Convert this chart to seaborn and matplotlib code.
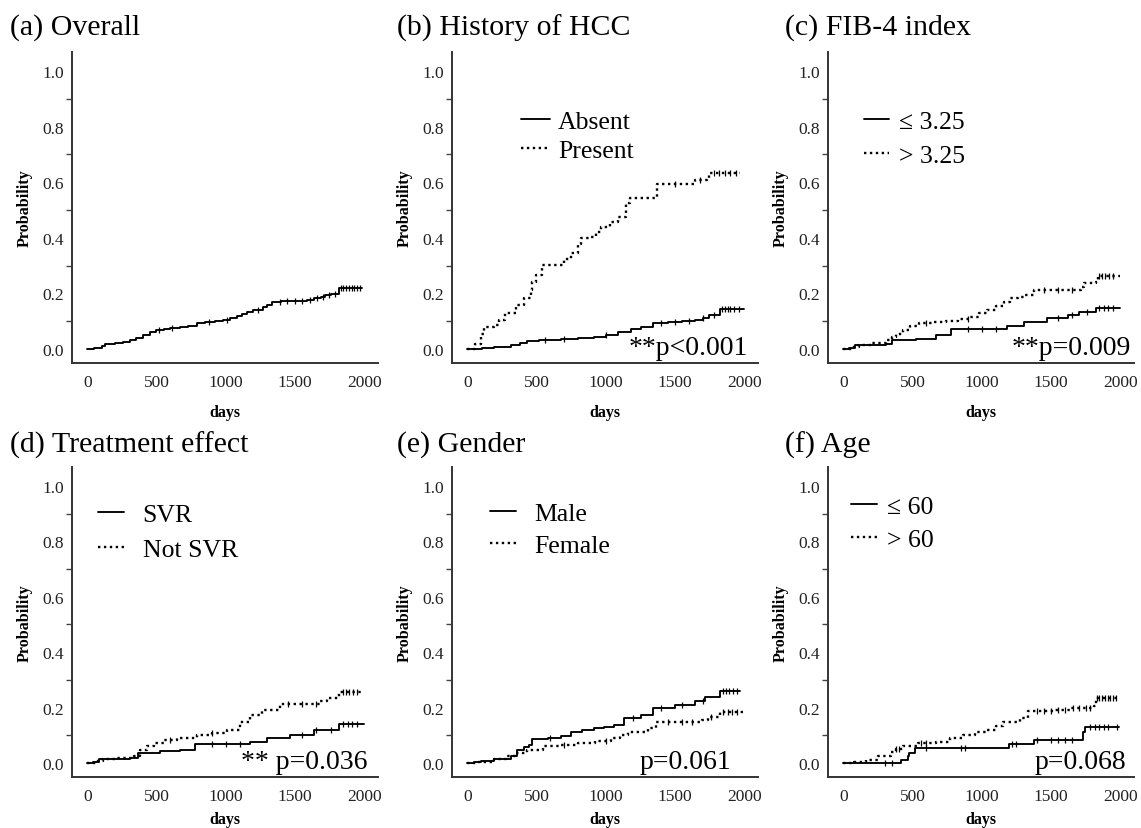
import matplotlib
matplotlib.use('Agg')
import matplotlib.pyplot as plt
from matplotlib.ticker import FixedLocator, FormatStrFormatter
import numpy as np
import pandas as pd
import seaborn as sns

# cumulative incidence curves (step-post: days, probability)
overall_days = [0, 50, 106, 130, 200, 260, 310, 350, 400, 455, 500, 551, 600, 671, 730, 792, 850, 920, 980, 1032,
                1080, 1120, 1153, 1200, 1273, 1300, 1333, 1400, 1480, 1586, 1640, 1690, 1718, 1760, 1815, 1985]
overall_prob = [0.0, 0.004, 0.01, 0.018, 0.022, 0.027, 0.032, 0.041, 0.051, 0.062, 0.068, 0.074, 0.076, 0.078, 0.084,
                0.092, 0.096, 0.1, 0.105, 0.11, 0.118, 0.126, 0.134, 0.142, 0.15, 0.159, 0.17, 0.172, 0.174, 0.178,
                0.182, 0.188, 0.196, 0.198, 0.221, 0.221]
overall_cens = [520, 610, 880, 1010, 1230, 1390, 1440, 1500, 1550, 1610, 1660, 1700, 1745, 1790, 1830, 1850, 1870,
                1890, 1910, 1930, 1950, 1970]

hcc_abs_days = [0, 110, 191, 313, 380, 434, 520, 676, 800, 918, 1000, 1089, 1180, 1258, 1343, 1450, 1550, 1646, 1700,
                1743, 1827, 1997]
hcc_abs_prob = [0.0, 0.004, 0.008, 0.014, 0.022, 0.03, 0.034, 0.038, 0.041, 0.044, 0.052, 0.062, 0.072, 0.08, 0.094,
                0.098, 0.101, 0.104, 0.112, 0.122, 0.144, 0.144]
hcc_abs_cens = [560, 700, 1000, 1400, 1500, 1600, 1700, 1780, 1840, 1860, 1880, 1900, 1930, 1960]
hcc_pre_days = [0, 58, 100, 119, 191, 230, 276, 349, 410, 458, 470, 500, 543, 700, 749, 800, 822, 895, 930, 967,
                1030, 1089, 1149, 1173, 1367, 1646, 1731, 1743, 1973]
hcc_pre_prob = [0.0, 0.02, 0.056, 0.08, 0.086, 0.106, 0.128, 0.158, 0.182, 0.212, 0.242, 0.266, 0.302, 0.324, 0.344,
                0.376, 0.398, 0.404, 0.422, 0.44, 0.458, 0.476, 0.524, 0.542, 0.592, 0.608, 0.614, 0.632, 0.632]
hcc_pre_cens = [1500, 1680, 1780, 1820, 1860, 1900, 1940]

fib_lo_days = [0, 40, 88, 307, 355, 526, 672, 781, 1180, 1304, 1474, 1620, 1705, 1826, 1997]
fib_lo_prob = [0.0, 0.005, 0.014, 0.02, 0.032, 0.038, 0.05, 0.074, 0.084, 0.098, 0.11, 0.122, 0.134, 0.146, 0.146]
fib_lo_cens = [900, 1000, 1100, 1550, 1650, 1760, 1850, 1880, 1910, 1950]
fib_hi_days = [0, 60, 112, 200, 307, 350, 380, 430, 480, 550, 650, 745, 830, 915, 980, 1036, 1100, 1158, 1207, 1260,
               1304, 1377, 1717, 1742, 1826, 1839, 1997]
fib_hi_prob = [0.0, 0.008, 0.014, 0.022, 0.032, 0.044, 0.056, 0.068, 0.082, 0.094, 0.096, 0.101, 0.108, 0.116, 0.128,
               0.14, 0.156, 0.17, 0.182, 0.188, 0.194, 0.214, 0.224, 0.236, 0.242, 0.262, 0.262]
fib_hi_cens = [600, 900, 1450, 1550, 1650, 1850, 1870, 1890, 1920, 1950]

svr_days = [0, 40, 88, 307, 370, 527, 671, 780, 1177, 1297, 1466, 1635, 1815, 1997]
svr_prob = [0.0, 0.005, 0.014, 0.018, 0.035, 0.042, 0.048, 0.068, 0.078, 0.09, 0.102, 0.12, 0.141, 0.141]
svr_cens = [900, 1000, 1100, 1550, 1650, 1760, 1850, 1880, 1910, 1950]
nsvr_days = [0, 60, 112, 200, 336, 383, 430, 480, 551, 650, 792, 900, 1008, 1100, 1177, 1260, 1394, 1681, 1731,
             1815, 1997]
nsvr_prob = [0.0, 0.008, 0.014, 0.02, 0.024, 0.048, 0.062, 0.074, 0.084, 0.092, 0.102, 0.11, 0.12, 0.15, 0.174,
             0.19, 0.212, 0.224, 0.236, 0.255, 0.255]
nsvr_cens = [600, 900, 1450, 1550, 1650, 1850, 1870, 1890, 1920, 1950]

male_days = [0, 50, 96, 193, 314, 362, 410, 447, 471, 580, 676, 749, 830, 918, 990, 1063, 1135, 1258, 1343, 1500,
             1646, 1718, 1827, 1972]
male_prob = [0.0, 0.004, 0.008, 0.015, 0.027, 0.048, 0.057, 0.066, 0.087, 0.092, 0.099, 0.111, 0.119, 0.126, 0.132,
             0.138, 0.164, 0.174, 0.198, 0.21, 0.224, 0.24, 0.26, 0.26]
male_cens = [600, 1200, 1400, 1550, 1700, 1850, 1870, 1890, 1920, 1950]
female_days = [0, 60, 193, 280, 350, 435, 544, 680, 798, 920, 1040, 1100, 1160, 1305, 1366, 1692, 1740, 1827, 1997]
female_prob = [0.0, 0.004, 0.015, 0.025, 0.036, 0.048, 0.06, 0.065, 0.072, 0.08, 0.09, 0.103, 0.114, 0.128, 0.147,
               0.157, 0.165, 0.185, 0.185]
female_cens = [700, 1000, 1450, 1550, 1620, 1760, 1850, 1880, 1910, 1950]

young_days = [0, 418, 466, 478, 515, 1197, 1380, 1731, 1743, 1992]
young_prob = [0.0, 0.012, 0.024, 0.036, 0.054, 0.068, 0.084, 0.114, 0.132, 0.132]
young_cens = [300, 350, 600, 850, 880, 1220, 1250, 1400, 1500, 1550, 1600, 1650, 1780, 1820, 1850, 1880, 1910, 1980]
old_days = [0, 80, 162, 250, 344, 380, 429, 538, 671, 770, 865, 950, 1035, 1100, 1156, 1277, 1338, 1519, 1640, 1810,
            1822, 1992]
old_prob = [0.0, 0.004, 0.012, 0.025, 0.039, 0.05, 0.06, 0.072, 0.078, 0.09, 0.102, 0.111, 0.12, 0.133, 0.147, 0.162,
            0.188, 0.192, 0.2, 0.207, 0.236, 0.236]
old_cens = [380, 400, 560, 600, 1400, 1450, 1500, 1550, 1600, 1660, 1700, 1750, 1780, 1830, 1850, 1870, 1890, 1910,
            1930, 1950, 1970]

SOLID = '-'
DOTTED = (0, (1, 1.5))

panels = [
    dict(title='(a) Overall', series=[(overall_days, overall_prob, overall_cens, None, SOLID)]),
    dict(title='(b) History of HCC',
         series=[(hcc_abs_days, hcc_abs_prob, hcc_abs_cens, 'Absent', SOLID),
                 (hcc_pre_days, hcc_pre_prob, hcc_pre_cens, 'Present', DOTTED)],
         leg=(0.225, 0.812), hl=1.15, tp=0.3, ls=0.2, ptext='**p<0.001', px=0.967),
    dict(title='(c) FIB-4 index',
         series=[(fib_lo_days, fib_lo_prob, fib_lo_cens, '\u2264 3.25', SOLID),
                 (fib_hi_days, fib_hi_prob, fib_hi_cens, '> 3.25', DOTTED)],
         leg=(0.118, 0.815), hl=0.95, tp=0.4, ls=0.45, ptext='**p=0.009', px=0.99),
    dict(title='(d) Treatment effect',
         series=[(svr_days, svr_prob, svr_cens, 'SVR', SOLID),
                 (nsvr_days, nsvr_prob, nsvr_cens, 'Not SVR', DOTTED)],
         leg=(0.086, 0.883), hl=1.0, tp=0.72, ls=0.47, ptext='** p=0.036', px=0.967),
    dict(title='(e) Gender',
         series=[(male_days, male_prob, male_cens, 'Male', SOLID),
                 (female_days, female_prob, female_cens, 'Female', DOTTED)],
         leg=(0.124, 0.886), hl=1.0, tp=0.72, ls=0.32, ptext='p=0.061', px=0.914),
    dict(title='(f) Age',
         series=[(young_days, young_prob, young_cens, '\u2264 60', SOLID),
                 (old_days, old_prob, old_cens, '> 60', DOTTED)],
         leg=(0.076, 0.909), hl=1.0, tp=0.4, ls=0.38, ptext='p=0.068', px=0.976),
]

sns.set_theme(style='white')
plt.rcParams['font.family'] = ['Liberation Serif', 'DejaVu Serif']
plt.rcParams['text.color'] = 'black'
plt.rcParams['axes.labelcolor'] = 'black'

W, H = 1141, 829
fig = plt.figure(figsize=(W / 100, H / 100), dpi=100)

lefts = [72, 452, 828]
rows = [(53, 364, 28, 10), (468, 778, 445, 5)]
title_x = [10, 397, 785]

for i, p in enumerate(panels):
    r, c = divmod(i, 3)
    top, bot, ty, xpad = rows[r]
    ax = fig.add_axes([lefts[c] / W, (H - bot) / H, 306 / W, (bot - top) / H])

    for days, prob, cens, label, style in p['series']:
        df = pd.DataFrame({'days': days, 'prob': prob})
        sns.lineplot(data=df, x='days', y='prob', ax=ax, color='black', estimator=None,
                     drawstyle='steps-post', linestyle=style,
                     linewidth=1.35 if style == SOLID else 1.7, label=label, legend=False)
        # censoring marks
        idx = np.searchsorted(days, cens, side='right') - 1
        cdf = pd.DataFrame({'days': cens, 'prob': np.asarray(prob)[idx]})
        sns.scatterplot(data=cdf, x='days', y='prob', ax=ax, marker='|', s=18, color='black',
                        linewidth=0.9, legend=False)

    ax.set_xlim(-110, 2100)
    ax.set_ylim(-0.05, 1.068)
    ax.xaxis.set_major_locator(FixedLocator([0, 500, 1000, 1500, 2000]))
    ax.yaxis.set_major_locator(FixedLocator([0, 0.2, 0.4, 0.6, 0.8, 1.0]))
    ax.yaxis.set_minor_locator(FixedLocator([0.1, 0.3, 0.5, 0.7, 0.9]))
    ax.yaxis.set_major_formatter(FormatStrFormatter('%.1f'))
    ax.tick_params(axis='y', which='major', length=0, pad=6, labelsize=12.5, colors='#222222')
    ax.tick_params(axis='y', which='minor', length=4, width=1, color='#444444', left=True)
    ax.tick_params(axis='x', which='major', length=0, pad=8, labelsize=12.5, colors='#222222')
    for s in ['top', 'right']:
        ax.spines[s].set_visible(False)
    for s in ['left', 'bottom']:
        ax.spines[s].set_color('#333333')
        ax.spines[s].set_linewidth(1.4)
    ax.set_ylabel('Probability', fontsize=11.5, fontweight='bold', labelpad=7)
    ax.set_xlabel('days', fontsize=11.5, fontweight='bold', labelpad=xpad)
    ax.grid(False)

    if 'leg' in p:
        ax.legend(loc='upper left', bbox_to_anchor=p['leg'], frameon=False, fontsize=18.5,
                  handlelength=p['hl'], handletextpad=p['tp'], labelspacing=p['ls'],
                  borderpad=0, borderaxespad=0)
        ax.text(p['px'], 0.03, p['ptext'], transform=ax.transAxes, ha='right', va='baseline',
                fontsize=20, color='black')

    fig.text(title_x[c] / W, 1 - ty / H, p['title'], fontsize=21.5, ha='left', va='center',
             color='black')

fig.savefig('out.png', dpi=100, facecolor='white')
